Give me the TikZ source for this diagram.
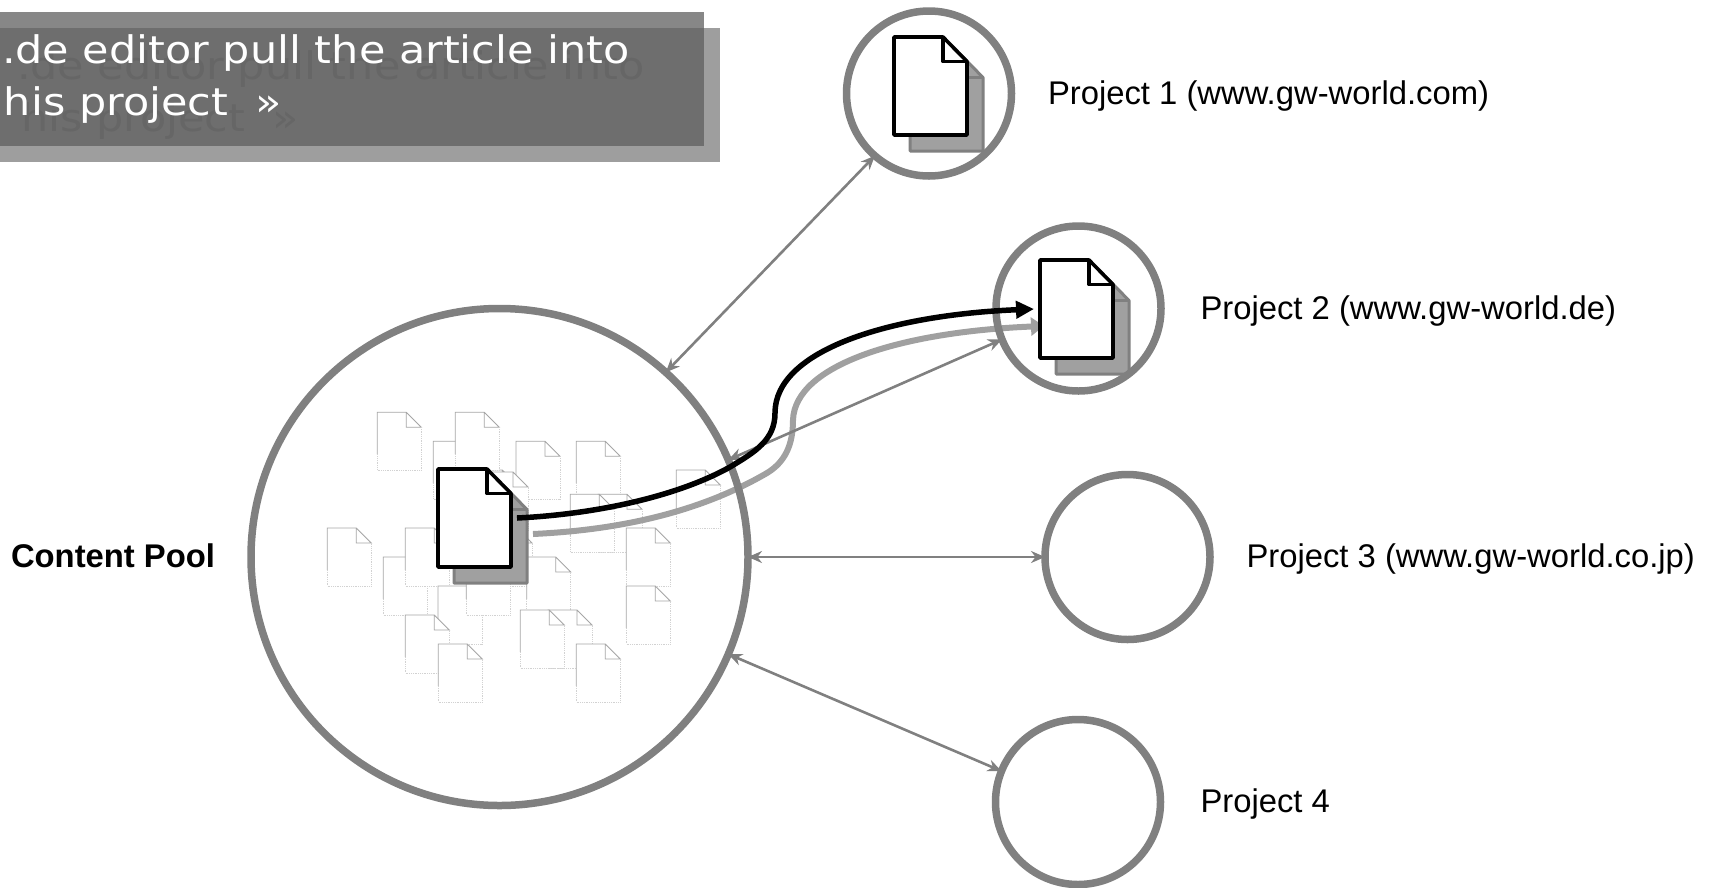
\documentclass[tikz,border=0pt]{standalone}
\usepackage{fontspec}
\setmainfont{Liberation Sans}
\newfontfamily\bannerfont[FakeStretch=1.13]{DejaVu Sans}
\usetikzlibrary{arrows.meta}
\pgfdeclarelayer{back}
\pgfsetlayers{back,main}
\definecolor{ringgray}{HTML}{808080}
\definecolor{shadefill}{HTML}{A0A0A0}
\definecolor{bandtop}{HTML}{878787}
\definecolor{bandlow}{HTML}{9E9E9E}
\definecolor{bandmid}{HTML}{6E6E6E}
\definecolor{bandtxt}{HTML}{666666}
\tikzset{
  x=1pt,y=-1pt,
  ring/.style={circle,draw=ringgray,line width=7.5pt,inner sep=0pt,outer sep=0pt,minimum size=#1},
  link/.style={draw=ringgray,line width=2.6pt,{Stealth[length=14pt,width=12pt]}-{Stealth[length=14pt,width=12pt]}},
  lbl/.style={inner sep=0pt,outer sep=0pt,anchor=base west,font=\fontsize{32.8}{38}\selectfont},
  bantext/.style={inner sep=0pt,outer sep=0pt,anchor=base west,font=\bannerfont\fontsize{38}{44}\selectfont},
  sheet/.style={draw=black,fill=white,line width=3.6pt,line join=round},
  shade/.style={draw=ringgray,fill=shadefill,line width=3pt,line join=round},
  pale/.style={draw=gray!70,line width=.8pt},
  paler/.style={draw=gray!35,line width=.8pt,densely dotted},
}
% small faint sheet at #1,#2
\newcommand{\smalldoc}[2]{%
  \fill[white] (#1,#2) -- ++(29,0) -- ++(15,15) -- ++(0,43) -- ++(-44,0) -- cycle;
  \draw[pale] (#1,#2+42) -- (#1,#2) -- ++(29,0) -- ++(15,15) -- ++(-15,0) -- ++(0,-15);
  \draw[paler] (#1,#2+42) -- (#1,#2+58) -- ++(44,0) -- ++(0,-43);
}
% big sheet at #1,#2 with style #3
\newcommand{\bigdoc}[3]{%
  \draw[#3] (#1,#2) -- ++(49,0) -- ++(24,24.5) -- ++(0,73.5) -- ++(-73,0) -- cycle;
  \draw[#3,fill=none] (#1+49,#2) -- ++(0,24.5) -- ++(24,0);
}
\begin{document}
\begin{tikzpicture}
\useasboundingbox (0,0) rectangle (1713,887);
% circles
\node[ring=497pt] (pool) at (499.5,557) {};
\node[ring=165pt] (p1) at (929,93.5) {};
\node[ring=165pt] (p2) at (1078.5,308.5) {};
\node[ring=165pt] (p3) at (1127.5,557) {};
\node[ring=165pt] (p4) at (1078,802) {};
% curve end points
\coordinate (pullA) at (517,518);
\coordinate (pullM) at (730,467);
\coordinate (pullB) at (775,413);
\coordinate (pullC) at (1034,309);
\coordinate (copyA) at (533,534);
\coordinate (copyM) at (767,473);
\coordinate (copyB) at (793,420);
\coordinate (copyC) at (1044,326);
\begin{pgfonlayer}{back}
  \foreach \a/\b in {473.3/470,433.3/441.3,377.3/412.3,455.3/412.3,516/441.3,576.3/441.3,676.3/470,598/494.3,570.3/494.3,327.3/528,484/472,383.3/557,405.3/528,488/528,526.7/557,626.3/528,438/586,466.3/557,626.3/586,405.3/615,548/610,520.3/610,438.3/644,576.3/644}
    {\smalldoc{\a}{\b}}
  \bigdoc{910}{53}{shade}
  \bigdoc{1056}{276}{shade}
  \bigdoc{454}{485}{shade}
  \draw[shadefill,line width=6pt,-{Triangle[length=13pt,width=18pt]}]
    (copyA) .. controls (620,530) and (700,512) .. (copyM)
    .. controls (785,462) and (793,445) .. (copyB)
    .. controls (795,365) and (900,332) .. (copyC);
  \draw[link] (pool.48.2) -- (p1.229);
  \draw[link] (pool.23.5) -- (p2.202.8);
  \draw[link] (pool.0) -- (p3.180);
  \draw[link] (pool.-23.9) -- (p4.158);
\end{pgfonlayer}
% black pull arrow
\draw[black,line width=5.5pt,-{Triangle[length=18pt,width=17pt]}]
  (pullA) .. controls (600,514) and (680,495) .. (pullM)
  .. controls (755,452) and (775,440) .. (pullB)
  .. controls (775,350) and (890,315) .. (pullC);
% sheets
\bigdoc{894}{37}{sheet}
\bigdoc{1040}{260}{sheet}
\bigdoc{438}{469}{sheet}
% labels
\node[lbl] (l1) at (1048,104) {Project 1 (www.gw-world.com)};
\node[lbl] (l2) at (1200.5,319) {Project 2 (www.gw-world.de)};
\node[lbl] (l3) at (1246.5,567) {Project 3 (www.gw-world.co.jp)};
\node[lbl] (l4) at (1200.5,812) {Project 4};
\node[lbl,font=\bfseries\fontsize{32.8}{38}\selectfont] (l0) at (11,567) {Content Pool};
% banner
\fill[bandtop] (0,12) rectangle (704,28);
\fill[bandlow] (0,146) rectangle (720,162);
\fill[bandlow] (704,28) rectangle (720,146);
\fill[bandmid] (0,28) rectangle (704,146);
\node[bantext,text=bandtxt] (b3) at (17,79) {.de editor pull the article into};
\node[bantext,text=bandtxt] (b4) at (21,131) {his project\ \ »};
\node[bantext,text=white] (b1) at (2,63) {.de editor pull the article into};
\node[bantext,text=white] (b2) at (4,115) {his project\ \ »};
\end{tikzpicture}
\end{document}
